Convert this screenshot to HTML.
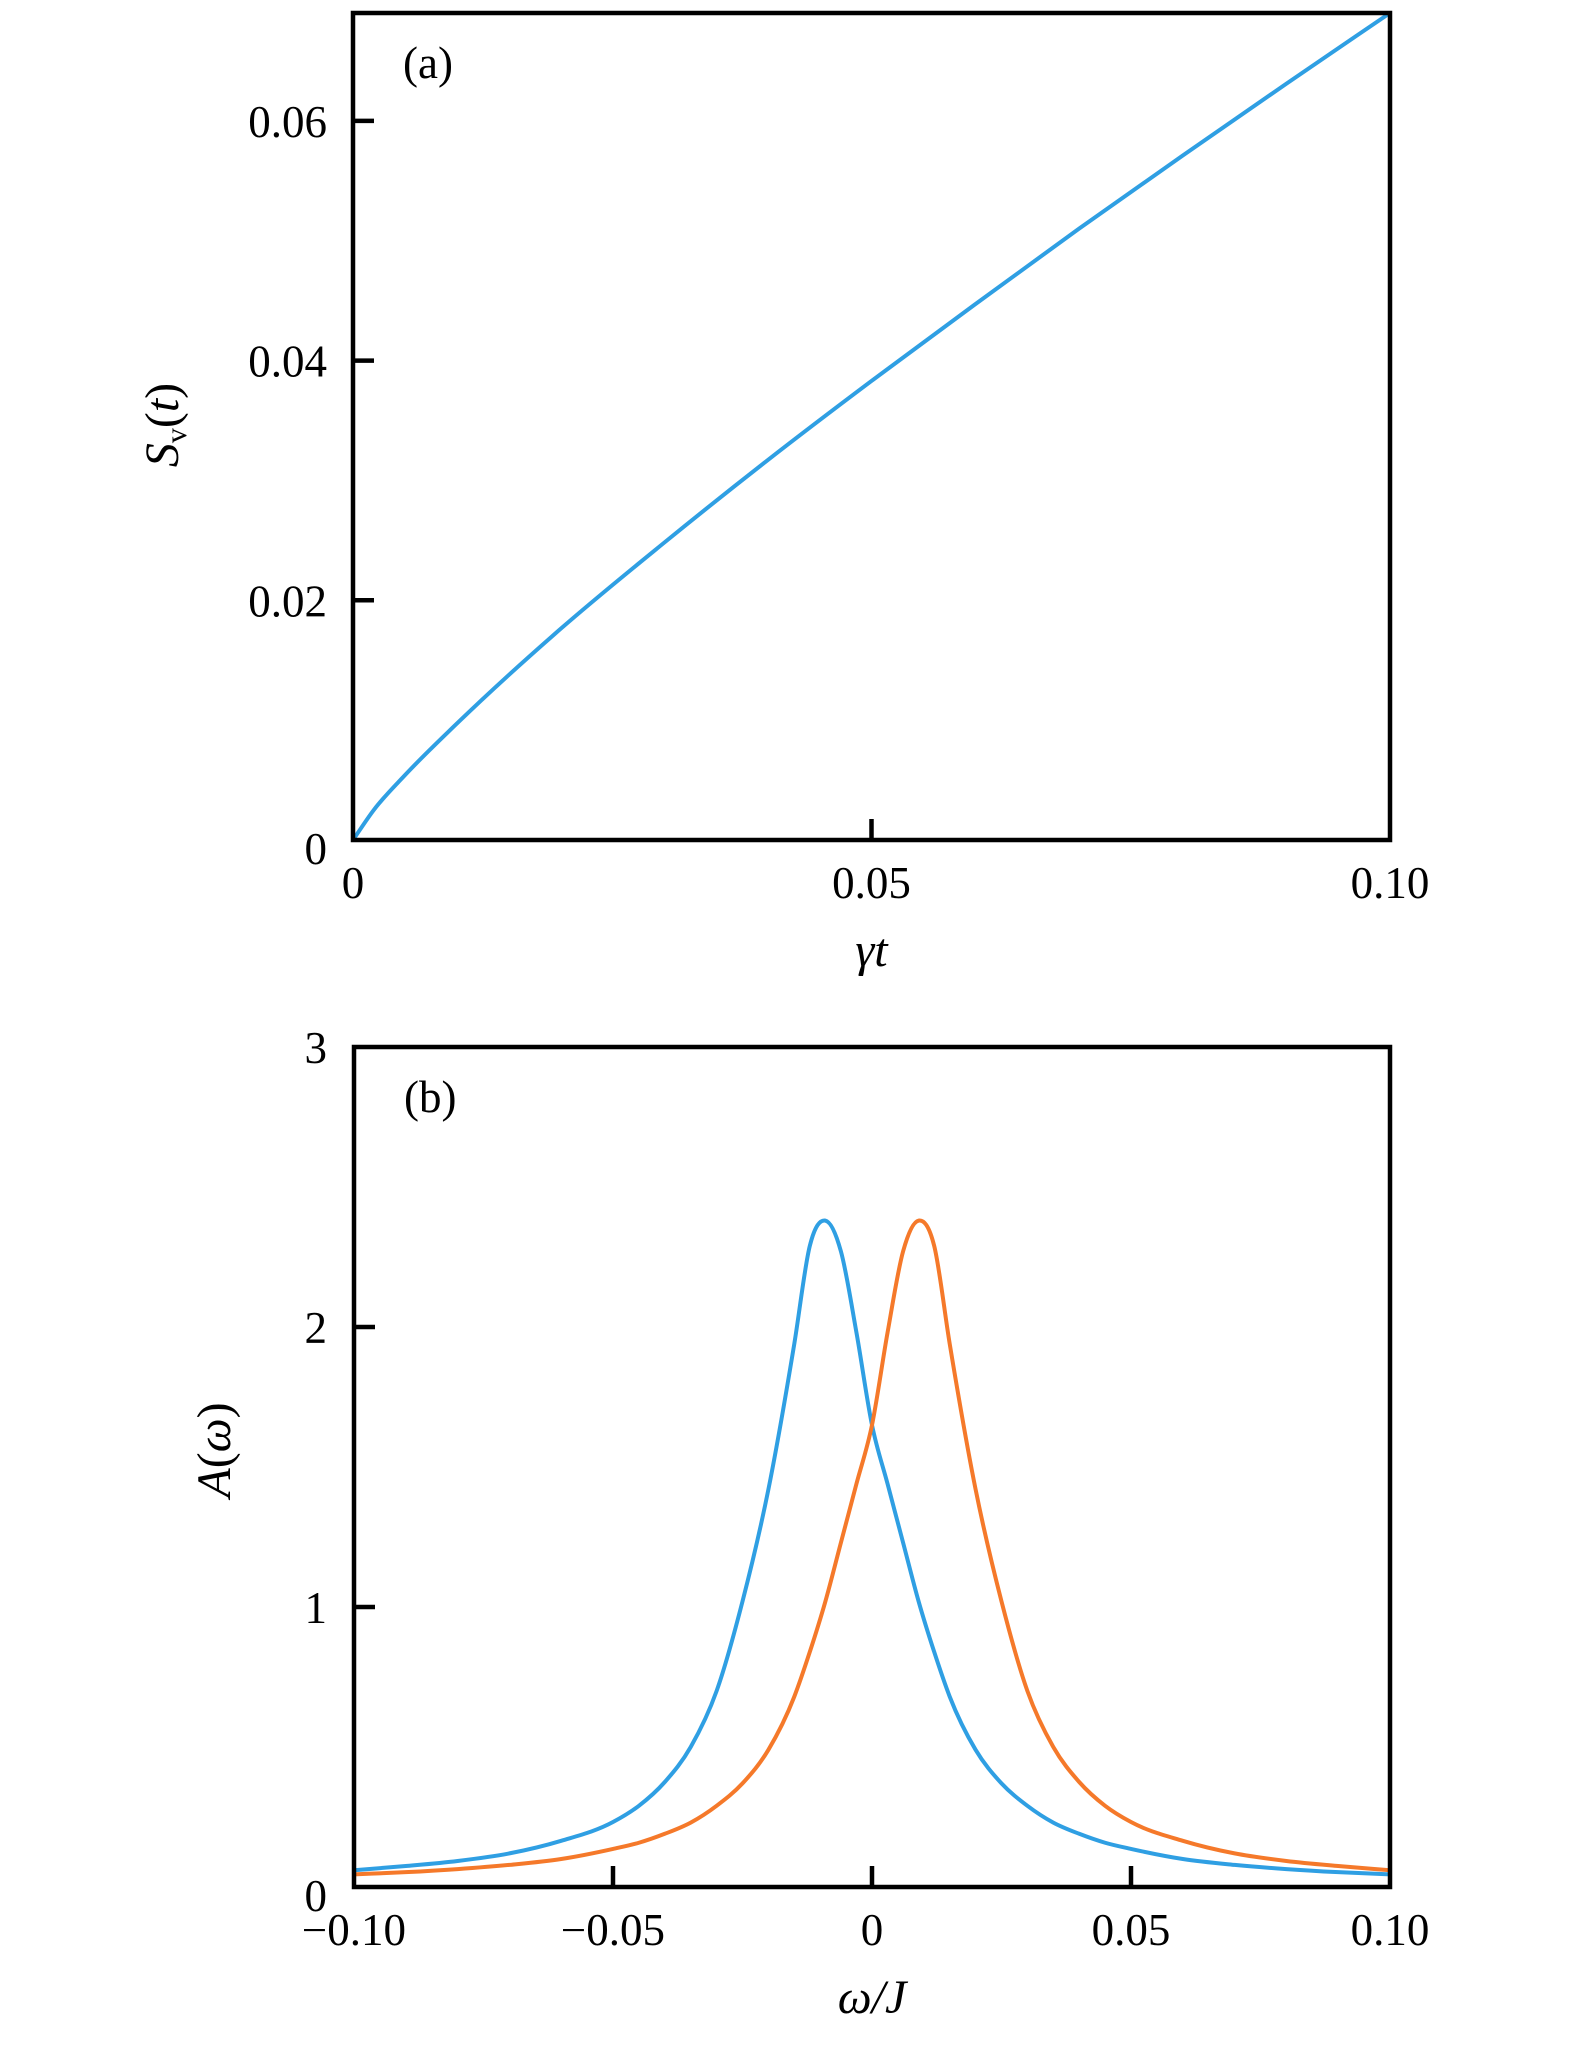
<!DOCTYPE html>
<html><head><meta charset="utf-8"><style>
html,body{margin:0;padding:0;background:#fff;}
svg text{font-family:"Liberation Serif",serif;fill:#000;}
</style></head><body>
<svg id="fig" width="1575" height="2047" viewBox="0 0 1575 2047" xmlns="http://www.w3.org/2000/svg">
<g id="pa"></g>
<g id="pb"></g>
</svg>
<script>
// Panel (a) data
const aX = [0, 0.002, 0.005, 0.01, 0.02, 0.03, 0.04, 0.05, 0.06, 0.07, 0.08, 0.09, 0.1];
const aY = [0, 0.0025, 0.0054, 0.0097, 0.0176, 0.0248, 0.0317, 0.0383, 0.0447, 0.0510, 0.0571, 0.0631, 0.069];
const aXTicks = [0, 0.05, 0.1];
const aXTickLabels = ["0", "0.05", "0.10"];
const aYTicks = [0, 0.02, 0.04, 0.06];
const aYTickLabels = ["0", "0.02", "0.04", "0.06"];
// Panel (b) data
const bX = [-0.1,-0.09,-0.08,-0.07,-0.06,-0.05,-0.045,-0.04,-0.035,-0.03,-0.025,-0.02,-0.015,-0.012,-0.009,-0.006,-0.003,0,0.003,0.006,0.009,0.012,0.015,0.02,0.025,0.03,0.035,0.04,0.045,0.05,0.06,0.07,0.08,0.09,0.1];
const bBlue = [0.06,0.075,0.093,0.12,0.165,0.232,0.29,0.375,0.5,0.7,1.02,1.42,1.94,2.29,2.38,2.27,1.98,1.65,1.44,1.23,1.02,0.84,0.68,0.49,0.37,0.29,0.23,0.19,0.158,0.136,0.1,0.079,0.064,0.053,0.045];
const bOrange = [0.045,0.053,0.064,0.079,0.1,0.136,0.158,0.19,0.23,0.29,0.37,0.49,0.68,0.84,1.02,1.23,1.44,1.65,1.98,2.27,2.38,2.29,1.94,1.42,1.02,0.7,0.5,0.375,0.29,0.232,0.165,0.12,0.093,0.075,0.06];
const bXTicks = [-0.1,-0.05,0,0.05,0.1];
const bXTickLabels = ["\u22120.10","\u22120.05","0","0.05","0.10"];
const bYTicks = [0,1,2,3];
const bYTickLabels = ["0","1","2","3"];

const NS="http://www.w3.org/2000/svg";
function mk(parent, tag, attrs, text){
  const e=document.createElementNS(NS,tag);
  for(const k in attrs) e.setAttribute(k,attrs[k]);
  if(text!==undefined) e.textContent=text;
  parent.appendChild(e); return e;
}
// Hermite spline in data space with nonuniform spacing
function smooth(xs, ys, sx, sy){
  const n=xs.length, m=[];
  for(let i=0;i<n;i++){
    if(i===0) m.push((ys[1]-ys[0])/(xs[1]-xs[0]));
    else if(i===n-1) m.push((ys[n-1]-ys[n-2])/(xs[n-1]-xs[n-2]));
    else {
      const d0=(ys[i]-ys[i-1])/(xs[i]-xs[i-1]), d1=(ys[i+1]-ys[i])/(xs[i+1]-xs[i]);
      const h0=xs[i]-xs[i-1], h1=xs[i+1]-xs[i];
      m.push((d0*h1+d1*h0)/(h0+h1));
    }
  }
  let d=`M${sx(xs[0])},${sy(ys[0])}`;
  for(let i=0;i<n-1;i++){
    const h=xs[i+1]-xs[i];
    d+=` C${sx(xs[i]+h/3)},${sy(ys[i]+m[i]*h/3)} ${sx(xs[i+1]-h/3)},${sy(ys[i+1]-m[i+1]*h/3)} ${sx(xs[i+1])},${sy(ys[i+1])}`;
  }
  return d;
}
function panel(g, L,R,T,B, xmin,xmax,ymin,ymax, xt,xtl,yt,ytl, series, tag, xlab, ylab, labY){
  const sx=v=>L+(v-xmin)/(xmax-xmin)*(R-L);
  const sy=v=>B-(v-ymin)/(ymax-ymin)*(B-T);
  const cp='clip'+tag;
  const defs=mk(g,'defs',{});
  const c=mk(defs,'clipPath',{id:cp});
  mk(c,'rect',{x:L,y:T,width:R-L,height:B-T});
  series.forEach(s=>{
    const p=mk(g,'path',{d:smooth(s.x,s.y,sx,sy),fill:'none',stroke:s.color,'stroke-width':4,'clip-path':`url(#${cp})`,'stroke-linejoin':'round'});
    
    
  });
  const fr=mk(g,'rect',{x:L,y:T,width:R-L,height:B-T,fill:'none',stroke:'#000','stroke-width':4.5});
  
  
  xt.forEach((v,i)=>{
    const x=sx(v);
    if(v!==xmin&&v!==xmax){
      const t=mk(g,'line',{x1:x,x2:x,y1:B,y2:B-21,stroke:'#000','stroke-width':4.5});
      
      
    }
    const l=mk(g,'text',{x:x,y:B+58,'font-size':45,'text-anchor':'middle'},xtl[i]);
    
    
  });
  yt.forEach((v,i)=>{
    const y=sy(v);
    if(v!==ymin&&v!==ymax){
      const t=mk(g,'line',{x1:L,x2:L+21,y1:y,y2:y,stroke:'#000','stroke-width':4.5});
      
      
    }
    const l=mk(g,'text',{x:327,y:y+16+(v===ymin?8:0),'font-size':45,'text-anchor':'end'},ytl[i]);
    
    
  });
  const pl=mk(g,'text',{x:L+50,y:T+65,'font-size':45},tag);
  
  
  const xl=mk(g,'text',{x:(L+R)/2,y:B+126,'font-size':48,'font-style':'italic','text-anchor':'middle'});
  xl.innerHTML=xlab;
  
  
  const yl=mk(g,'text',{x:0,y:0,'font-size':48,'text-anchor':'middle',transform:`translate(${labY[0]},${labY[1]}) rotate(-90)`});
  yl.innerHTML=ylab;
  
  
}
panel(document.getElementById('pa'),353,1390,13,840,0,0.1,0,0.069,aXTicks,aXTickLabels,aYTicks,aYTickLabels,
  [{x:aX,y:aY,color:'#2f9fe3',name:'sv-curve'}],'(a)',
  '<tspan font-style="italic">γt</tspan>',
  '<tspan font-style="italic">S</tspan><tspan font-size="30" dy="8">v</tspan><tspan dy="-8">(</tspan><tspan font-style="italic">t</tspan>)',[178,425]);
panel(document.getElementById('pb'),354,1390,1047,1887,-0.1,0.1,0,3,bXTicks,bXTickLabels,bYTicks,bYTickLabels,
  [{x:bX,y:bBlue,color:'#2f9fe3',name:'blue-spectral-curve'},{x:bX,y:bOrange,color:'#f5792a',name:'orange-spectral-curve'}],'(b)',
  '<tspan font-style="italic">ω</tspan>/<tspan font-style="italic">J</tspan>',
  '<tspan font-style="italic">A</tspan>(<tspan font-style="italic">ω</tspan>)',[230,1450]);
</script>
</body></html>
